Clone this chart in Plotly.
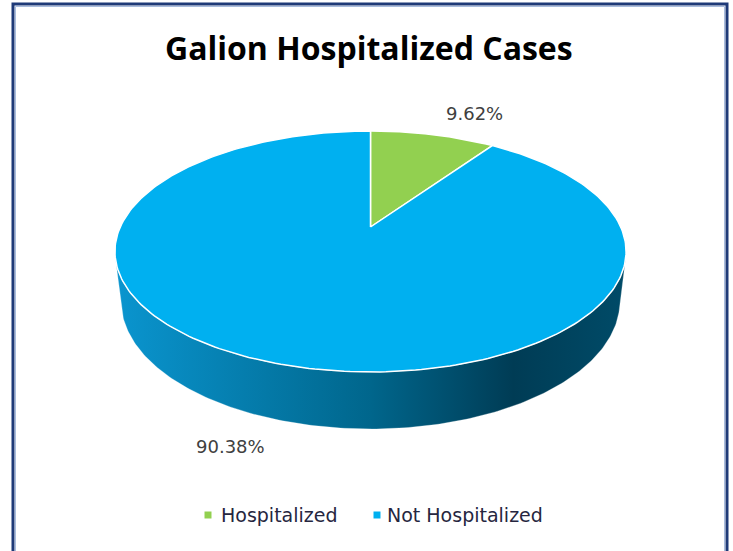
import numpy as np
import plotly.graph_objects as go

# ---- data ----
categories = ["Hospitalized", "Not Hospitalized"]
values = [9.62, 90.38]
top_colors = ["#92D050", "#00B0F0"]
side_scales = [
    [[0, "#6FA63A"], [1, "#3D6020"]],
    [[0, "#0A95CF"], [0.5, "#00668C"], [0.78, "#003C55"], [1, "#004B68"]],
]
title_text = "Galion Hospitalized Cases"

# ---- 3D pie projection parameters (pixel space) ----
W, H_PX = 733, 551
cx, cy = 370.5, 227.0
theta = np.arcsin(0.4616)
s, c = np.sin(theta), np.cos(theta)
D = 4.366
k = 1092.5
depth = 0.2266


def proj(u, v, h):
    den = D + v * c - h * s
    x = cx + k * u / den
    y = cy - k * (v * s + h * c) / den
    return x, y


fig = go.Figure()

total = sum(values)
fracs = [v / total for v in values]
starts = np.cumsum([0] + fracs[:-1]) * 2 * np.pi
ends = np.cumsum(fracs) * 2 * np.pi

# visible side range (angle measured clockwise from 12 o'clock)
v_t = -1.0 / (D * c)
a_vis0 = np.arccos(v_t)
a_vis1 = 2 * np.pi - a_vis0

# sides
for i in range(len(values)):
    lo = max(starts[i], a_vis0)
    hi = min(ends[i], a_vis1)
    if hi <= lo:
        continue
    a = np.linspace(lo, hi, 200)
    u, v = np.sin(a), np.cos(a)
    xt, yt = proj(u, v, 0.0)
    xb, yb = proj(u, v, -depth)
    xs = np.concatenate([xt, xb[::-1], xt[:1]])
    ys = np.concatenate([yt, yb[::-1], yt[:1]])
    fig.add_trace(go.Scatter(
        x=xs, y=ys, mode="lines", fill="toself",
        line=dict(width=0.8, color="rgba(255,255,255,0.35)"),
        fillgradient=dict(type="horizontal", colorscale=side_scales[i],
                          start=float(xs.min()), stop=float(xs.max())),
        hoverinfo="skip", showlegend=False))

# top faces
for i in range(len(values)):
    a = np.linspace(starts[i], ends[i], 300)
    u, v = np.sin(a), np.cos(a)
    xa, ya = proj(u, v, 0.0)
    x0, y0 = proj(0.0, 0.0, 0.0)
    xs = np.concatenate([[x0], xa, [x0]])
    ys = np.concatenate([[y0], ya, [y0]])
    fig.add_trace(go.Scatter(
        x=xs, y=ys, mode="lines", fill="toself", fillcolor=top_colors[i],
        line=dict(width=1.5, color="white"),
        hoverinfo="skip", showlegend=False))

# data labels
label_pos = [(474, 113), (230, 446)]
for i, val in enumerate(values):
    fig.add_annotation(x=label_pos[i][0], y=label_pos[i][1], text=f"{val:.2f}%",
                       showarrow=False, xanchor="center", yanchor="middle",
                       font=dict(family="DejaVu Sans", size=18, color="#404040"))

# legend
leg_sq = [208, 377]
leg_tx = [219, 385]
leg_y = 515
for i, cat in enumerate(categories):
    fig.add_trace(go.Scatter(x=[leg_sq[i]], y=[leg_y], mode="markers",
                             marker=dict(symbol="square", size=7, color=top_colors[i]),
                             hoverinfo="skip", showlegend=False))
    fig.add_annotation(x=leg_tx[i], y=leg_y, text=cat, showarrow=False,
                       xanchor="left", yanchor="middle",
                       font=dict(family="DejaVu Sans", size=19, color="#262640"))

# title
fig.add_annotation(x=369, y=47, text=f"<b>{title_text}</b>", showarrow=False,
                   xanchor="center", yanchor="middle",
                   font=dict(family="Open Sans", size=32, color="#000000"))

# border
fig.add_shape(type="rect", xref="x", yref="y", x0=13, y0=4, x1=727, y1=570,
              line=dict(color="#1F3A78", width=3), layer="above")
fig.add_shape(type="rect", xref="x", yref="y", x0=15.5, y0=6.5, x1=724.5, y1=570,
              line=dict(color="#A9BCDD", width=1), layer="above")

fig.update_layout(
    width=W, height=H_PX,
    margin=dict(l=0, r=0, t=0, b=0),
    paper_bgcolor="white", plot_bgcolor="white",
    xaxis=dict(range=[0, W], visible=False, fixedrange=True),
    yaxis=dict(range=[H_PX, 0], visible=False, fixedrange=True),
    showlegend=False,
)

fig.write_html("out.html", config={"displayModeBar": False},
               post_script="document.body.style.margin='0';document.body.style.overflow='hidden';")
